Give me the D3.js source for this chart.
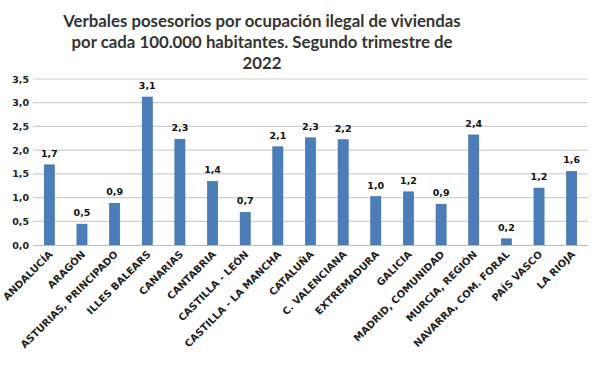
<!DOCTYPE html>
<html><head><meta charset="utf-8">
<script src="https://cdn.jsdelivr.net/npm/d3@7"></script>
<style>body{margin:0;background:#fff}svg{display:block}</style>
</head><body>
<svg id="c" width="597" height="367"></svg>
<script>
const categories = ["ANDALUCÍA","ARAGÓN","ASTURIAS, PRINCIPADO","ILLES BALEARS","CANARIAS","CANTABRIA","CASTILLA - LEÓN","CASTILLA - LA MANCHA","CATALUÑA","C. VALENCIANA","EXTREMADURA","GALICIA","MADRID, COMUNIDAD","MURCIA, REGIÓN","NAVARRA, COM. FORAL","PAÍS VASCO","LA RIOJA"];
const values = [1.69,0.44,0.88,3.12,2.23,1.34,0.69,2.07,2.26,2.22,1.02,1.12,0.86,2.32,0.13,1.20,1.55];
const valueLabels = ["1,7","0,5","0,9","3,1","2,3","1,4","0,7","2,1","2,3","2,2","1,0","1,2","0,9","2,4","0,2","1,2","1,6"];
const yTicks = [0,0.5,1,1.5,2,2.5,3,3.5];
const titleLines = ["Verbales posesorios por ocupación ilegal de viviendas","por cada 100.000 habitantes. Segundo trimestre de","2022"];

const svg = d3.select("#c");
const font = "Lato, 'Open Sans', sans-serif";
const font2 = "'DejaVu Sans', Verdana, sans-serif";
const m = {left:33, right:9, top:79, bottom:122};
const W = 597, H = 367;
const x = d3.scaleBand().domain(categories).range([m.left, W - m.right]).paddingInner(0.69).paddingOuter(0.345);
const y = d3.scaleLinear().domain([0,3.5]).range([H - m.bottom, m.top]);

// title
svg.append("g").selectAll("text").data(titleLines).join("text")
  .attr("x", 262).attr("y", (d,i)=>27 + i*21)
  .attr("text-anchor","middle").attr("font-family",font).attr("font-weight","bold")
  .attr("font-size",16.8).attr("fill","#333").text(d=>d);

// grid
svg.append("g").selectAll("line").data(yTicks.filter(d=>d>0)).join("line")
  .attr("x1", m.left).attr("x2", W - m.right)
  .attr("y1", d=>y(d)).attr("y2", d=>y(d))
  .attr("stroke","#cfcfcf").attr("stroke-width",1.2);

// y axis
const yAxis = d3.axisLeft(y).tickValues(yTicks).tickSize(0).tickPadding(4)
  .tickFormat(d=>d3.format(".1f")(d).replace(".",","));
const gy = svg.append("g").attr("transform",`translate(${m.left},0)`).call(yAxis);
gy.select(".domain").remove();
gy.selectAll("text").attr("font-family",font2).attr("font-weight","bold").attr("font-size",9.5).attr("fill","#222");

// bars
svg.append("g").selectAll("rect").data(values).join("rect")
  .attr("x",(d,i)=>x(categories[i])).attr("width",x.bandwidth())
  .attr("y",d=>y(d)).attr("height",d=>y(0)-y(d))
  .attr("fill","#4a7ebb").attr("stroke","#3a68a0").attr("stroke-width",0.6);

// value labels
svg.append("g").selectAll("text").data(values).join("text")
  .attr("x",(d,i)=>x(categories[i])+x.bandwidth()/2).attr("y",d=>y(d)-8)
  .attr("text-anchor","middle").attr("font-family",font2).attr("font-weight","bold")
  .attr("font-size",9.5).attr("fill","#111").text((d,i)=>valueLabels[i]);

// x axis
const xAxis = d3.axisBottom(x).tickSize(0).tickPadding(0);
const gx = svg.append("g").attr("transform",`translate(0,${y(0)})`).call(xAxis);
gx.select(".domain").attr("stroke","#bbb").attr("stroke-width",1.2);
gx.selectAll("text")
  .attr("font-family",font2).attr("font-weight","bold").attr("font-size",10).attr("fill","#222")
  .attr("text-anchor","end").attr("dy",null).attr("y",0)
  .attr("transform","translate(4,10) rotate(-45)");
</script>
</body></html>
